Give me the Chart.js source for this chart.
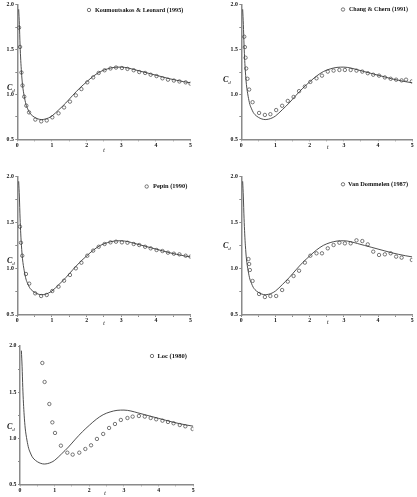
<!DOCTYPE html>
<html><head><meta charset="utf-8">
<script src="https://cdn.jsdelivr.net/npm/chart.js@4"></script>
<style>
html,body{margin:0;padding:0;background:#fff}
body{width:417px;height:497px;position:relative;overflow:hidden}
canvas{position:absolute}
</style></head><body>
<canvas id="c1"></canvas><canvas id="c2"></canvas><canvas id="c3"></canvas><canvas id="c4"></canvas><canvas id="c5"></canvas>
<script>
// ---- data ----
const xTickLabels = ['0','1','2','3','4','5'];
const yTickLabels = ['0.5','1.0','1.5','2.0'];

const curveT  = [0.04,0.06,0.08,0.10,0.12,0.15,0.20,0.25,0.30,0.35,0.40,0.50,0.60,0.70,0.80,0.90,1.00,1.20,1.40,1.60,1.80,2.00,2.20,2.40,2.60,2.80,3.00,3.20,3.40,3.60,3.80,4.00,4.20,4.40,4.60,4.80,5.00];
const curveCd = [1.95,1.78,1.55,1.38,1.25,1.11,0.98,0.89,0.84,0.80,0.775,0.745,0.727,0.72,0.725,0.738,0.76,0.83,0.905,0.99,1.07,1.14,1.205,1.255,1.285,1.302,1.305,1.295,1.275,1.255,1.235,1.215,1.195,1.175,1.158,1.143,1.13];

const koumT  = [0.05,0.08,0.12,0.15,0.20,0.26,0.34,0.52,0.69,0.85,1.01,1.19,1.35,1.52,1.69,1.85,2.02,2.19,2.35,2.52,2.69,2.85,3.02,3.18,3.36,3.52,3.69,3.85,4.02,4.19,4.35,4.52,4.68,4.86,5.00];
const koumCd = [1.745,1.53,1.245,1.10,0.975,0.875,0.80,0.72,0.70,0.71,0.745,0.79,0.855,0.92,0.99,1.06,1.135,1.19,1.24,1.27,1.29,1.30,1.295,1.285,1.27,1.25,1.24,1.22,1.205,1.18,1.165,1.155,1.145,1.135,1.12];

const changT  = [0.086,0.105,0.124,0.143,0.18,0.23,0.33,0.52,0.69,0.85,1.02,1.195,1.36,1.53,1.69,1.86,2.02,2.20,2.36,2.53,2.70,2.87,3.03,3.20,3.37,3.54,3.70,3.86,4.03,4.20,4.37,4.53,4.69,4.82,4.99];
const changCd = [1.644,1.528,1.41,1.29,1.175,1.055,0.914,0.794,0.772,0.78,0.826,0.874,0.928,0.972,1.037,1.088,1.14,1.18,1.21,1.255,1.266,1.273,1.273,1.273,1.266,1.255,1.237,1.22,1.21,1.19,1.175,1.165,1.157,1.165,1.146];

const pepinT  = [0.076,0.105,0.143,0.25,0.344,0.516,0.688,0.85,1.01,1.19,1.35,1.52,1.69,1.85,2.02,2.19,2.35,2.52,2.69,2.85,3.02,3.18,3.36,3.52,3.69,3.85,4.02,4.19,4.35,4.52,4.68,4.86,5.00];
const pepinCd = [1.458,1.284,1.143,0.945,0.84,0.735,0.706,0.717,0.76,0.807,0.872,0.934,1.006,1.067,1.143,1.198,1.24,1.27,1.288,1.295,1.288,1.284,1.27,1.259,1.24,1.223,1.205,1.194,1.176,1.165,1.158,1.143,1.133];

const vanT  = [0.21,0.23,0.25,0.33,0.52,0.69,0.85,1.02,1.195,1.36,1.53,1.69,1.86,2.02,2.20,2.36,2.53,2.70,2.87,3.03,3.20,3.37,3.54,3.70,3.86,4.03,4.20,4.37,4.53,4.69,4.99];
const vanCd = [1.107,1.053,0.988,0.869,0.728,0.695,0.706,0.706,0.771,0.862,0.923,0.98,1.068,1.143,1.169,1.169,1.223,1.259,1.284,1.277,1.277,1.31,1.302,1.266,1.187,1.151,1.158,1.169,1.133,1.122,1.097];

const locT  = [0.644,0.71,0.846,0.933,1.01,1.18,1.365,1.52,1.71,1.885,2.05,2.22,2.40,2.57,2.74,2.91,3.10,3.25,3.43,3.60,3.77,3.93,4.11,4.27,4.43,4.61,4.77,4.98];
const locCd = [1.816,1.61,1.371,1.172,1.057,0.919,0.843,0.822,0.843,0.883,0.923,0.992,1.046,1.111,1.154,1.198,1.219,1.234,1.241,1.234,1.219,1.205,1.19,1.176,1.162,1.143,1.129,1.10];

const seriesNames = ['Koumoutsakos & Leonard (1995)','Chang & Chern (1991)','Pepin (1990)','Van Dommelen (1987)','Loc (1980)'];
const seriesT  = [koumT, changT, pepinT, vanT, locT];
const seriesCd = [koumCd, changCd, pepinCd, vanCd, locCd];

// ---- layout (absolute page px) ----
const panels = [
  {box:[0,0,207,165],   area:[17.3,1.7,190.5,139.3],   leg:[89,10,95,183.3],   tl:[104,150],  cd:[7,88]},
  {box:[207,0,210,165], area:[241.3,1.7,415.7,139.3],  leg:[343,9.5,349,408],  tl:[327.7,147],cd:[223,80]},
  {box:[0,165,207,165], area:[17.3,176.7,190.5,315],   leg:[146.7,186.5,153,187.3],tl:[104,323],cd:[7,261]},
  {box:[207,165,210,165],area:[241.3,176.7,415.7,315], leg:[343,184.3,348,408],tl:[327.7,322.5],cd:[223,246]},
  {box:[0,330,207,167], area:[20,346,193.3,484.3],     leg:[152,356,157.5,187.3],tl:[105,493],cd:[7,427]}
];

const GRAY = '#8a8a8a';
const tickFont = {family:'"Liberation Serif", "DejaVu Serif", serif', size:5.8, weight:'bold'};

function pts(ts, vs){ return ts.map((t,i)=>({x:t,y:vs[i]})); }

panels.forEach((p, i) => {
  const cv = document.getElementById('c'+(i+1));
  const [bx,by,bw,bh] = p.box;
  const [al,at,ar,ab] = p.area;
  cv.width = bw; cv.height = bh;
  cv.style.left = bx+'px'; cv.style.top = by+'px';
  cv.style.width = bw+'px'; cv.style.height = bh+'px';
  const yW = al - bx;
  const xH = 12;
  const padTop = at - by;
  const padRight = (bx+bw) - ar;
  const padBottom = (by+bh) - ab - xH;

  const textPlugin = {
    id:'panelText'+i,
    afterDraw(chart){
      const ctx = chart.ctx;
      ctx.save();
      // legend
      const [cx,cy,tx,tr] = p.leg;
      ctx.beginPath();
      ctx.arc(cx-bx, cy-by, 1.7, 0, Math.PI*2);
      ctx.strokeStyle = '#555'; ctx.lineWidth = 0.8; ctx.stroke();
      ctx.fillStyle = '#111';
      ctx.font = 'bold 6.5px "Liberation Serif", serif';
      ctx.textBaseline = 'middle'; ctx.textAlign = 'left';
      const mw = ctx.measureText(seriesNames[i]).width;
      const sx = Math.min(1, (tr - tx) / mw);
      ctx.save();
      ctx.translate(tx-bx, cy-by);
      ctx.scale(sx, 1);
      ctx.fillText(seriesNames[i], 0, 0);
      ctx.restore();
      // x title
      ctx.font = 'italic 7px "Liberation Serif", serif';
      ctx.textAlign = 'center';
      ctx.fillStyle = '#333';
      ctx.fillText('t', p.tl[0]-bx, p.tl[1]-by);
      // y title C_d
      ctx.textAlign = 'left';
      ctx.font = 'italic bold 8px "Liberation Serif", serif';
      ctx.fillStyle = '#111';
      ctx.fillText('C', p.cd[0]-bx, p.cd[1]-by);
      const w = ctx.measureText('C').width;
      ctx.font = 'italic 5px "Liberation Serif", serif';
      ctx.fillText('d', p.cd[0]-bx+w, p.cd[1]-by+2.5);
      ctx.restore();
    }
  };

  new Chart(cv, {
    type:'scatter',
    data:{datasets:[
      {type:'line', data:pts(curveT, curveCd), borderColor:'#3a3a3a', borderWidth:0.9, pointRadius:0, cubicInterpolationMode:'monotone', fill:false},
      {data:pts(seriesT[i], seriesCd[i]), pointStyle:'circle', pointRadius:1.7, borderColor:'#555', borderWidth:0.8, backgroundColor:'rgba(0,0,0,0)'}
    ]},
    options:{
      responsive:false, animation:false, devicePixelRatio:1,
      layout:{padding:{left:0, top:padTop, right:padRight, bottom:padBottom}},
      plugins:{legend:{display:false}, tooltip:{enabled:false}},
      scales:{
        x:{type:'linear', min:0, max:5,
           ticks:{stepSize:0.5, autoSkip:false, maxRotation:0, padding:0.5, color:'#111', font:tickFont,
             callback:(v)=>{ const k=Math.round(v*2); return (k%2===0)? xTickLabels[k/2] : ''; }},
           grid:{drawOnChartArea:false, tickLength:2, color:GRAY, lineWidth:1},
           border:{color:GRAY, width:1.5},
           afterFit:(s)=>{ s.height = xH; s.paddingLeft=0; s.paddingRight=0; s.paddingTop=0; s.paddingBottom=0; }
        },
        y:{type:'linear', min:0.5, max:2.0,
           ticks:{stepSize:0.25, autoSkip:false, padding:1.5, color:'#111', font:tickFont,
             callback:(v)=>{ const k=Math.round(v*4); return (k%2===0)? yTickLabels[(k-2)/2] : ''; }},
           grid:{drawOnChartArea:false, tickLength:2, color:GRAY, lineWidth:1},
           border:{color:GRAY, width:1.5},
           afterFit:(s)=>{ s.width = yW; s.paddingLeft=0; s.paddingRight=0; s.paddingTop=0; s.paddingBottom=0; }
        }
      }
    },
    plugins:[textPlugin]
  });
});
</script>
</body></html>
